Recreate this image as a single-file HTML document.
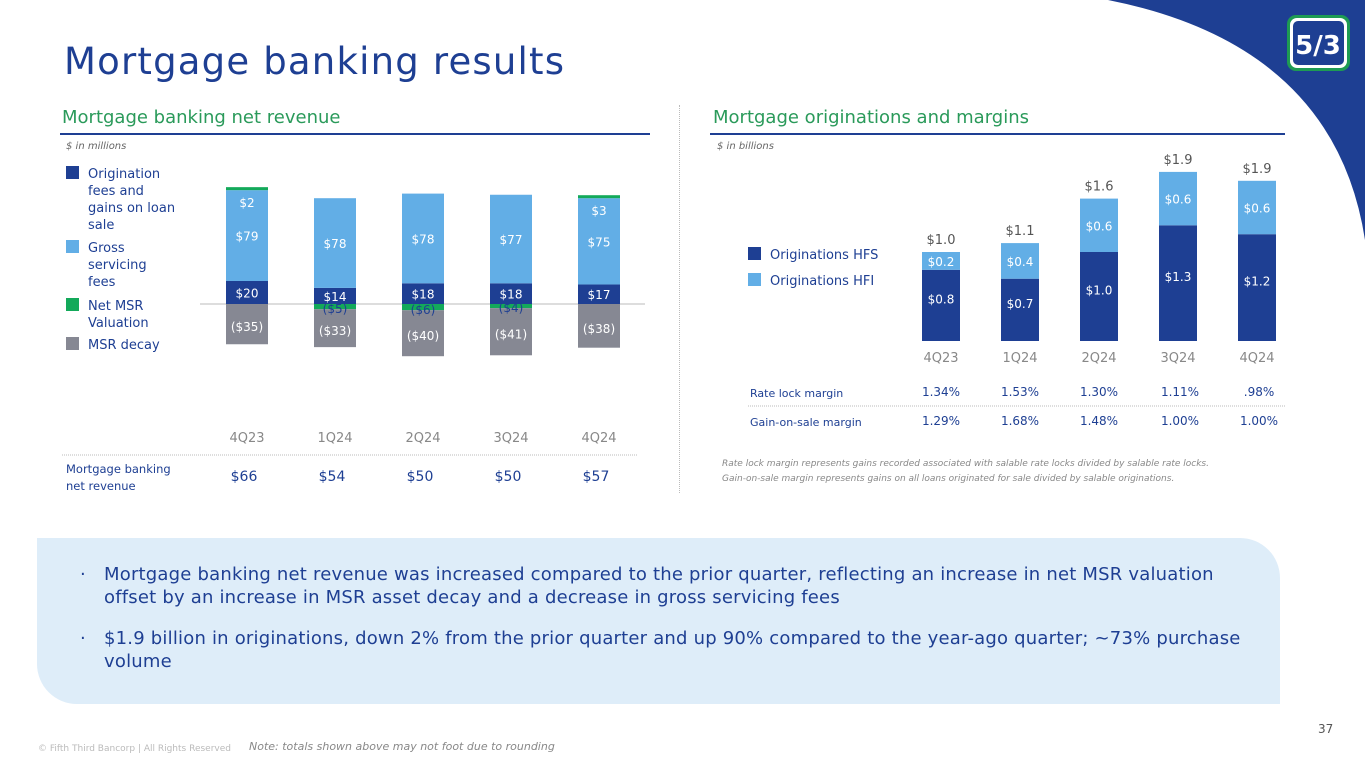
<!DOCTYPE html>
<html><head><meta charset="utf-8">
<style>
body{margin:0;width:1365px;height:768px;position:relative;overflow:hidden;background:#fff;font-family:"DejaVu Sans","Liberation Sans",sans-serif;color:#1e3f93}
.abs{position:absolute}
svg text{font-family:"DejaVu Sans","Liberation Sans",sans-serif}
</style></head><body>
<svg class="abs" style="left:0;top:0" width="1365" height="768">
<path d="M1108,0 Q1335,45 1365,240 L1365,0 Z" fill="#1e3f93"/>
<g>
<rect x="1287" y="15" width="63" height="56" rx="9" fill="#1e9b53"/>
<rect x="1290" y="18" width="57" height="50" rx="7" fill="#fff"/>
<rect x="1293" y="21" width="51" height="44" rx="5" fill="#1e3f93"/>
<text x="1318" y="54" text-anchor="middle" font-size="26" font-weight="bold" fill="#fff">5/3</text>
</g>
</svg>
<div class="abs" style="left:64px;top:40px;font-size:37px;letter-spacing:1.2px;color:#1e3f93">Mortgage banking results</div>
<div class="abs" style="left:62px;top:107px;font-size:18px;color:#2a9a5a">Mortgage banking net revenue</div>
<div class="abs" style="left:60px;top:133px;width:590px;height:2px;background:#1e3f93"></div>
<div class="abs" style="left:713px;top:107px;font-size:18px;color:#2a9a5a">Mortgage originations and margins</div>
<div class="abs" style="left:710px;top:133px;width:575px;height:2px;background:#1e3f93"></div>
<div class="abs" style="left:679px;top:105px;width:1px;height:388px;border-left:1px dotted #bbb"></div>

<svg id="left" class="abs" style="left:0;top:0" width="680" height="500"></svg>
<svg id="right" class="abs" style="left:680px;top:0" width="685" height="500"></svg>

<div class="abs" style="left:37px;top:538px;width:1243px;height:166px;background:#deedf9;border-radius:0 40px 0 40px"></div>
<div class="abs" style="left:80px;top:563px;width:1150px;font-size:18px;line-height:23px;color:#1e3f93;padding-left:24px;text-indent:-24px;letter-spacing:0.2px"><span style="display:inline-block;width:24px;text-indent:0">·</span>Mortgage banking net revenue was increased compared to the prior quarter, reflecting an increase in net MSR valuation offset by an increase in MSR asset decay and a decrease in gross servicing fees</div>
<div class="abs" style="left:80px;top:627px;width:1150px;font-size:18px;line-height:23px;color:#1e3f93;padding-left:24px;text-indent:-24px;letter-spacing:0.2px"><span style="display:inline-block;width:24px;text-indent:0">·</span>$1.9 billion in originations, down 2% from the prior quarter and up 90% compared to the year-ago quarter; ~73% purchase volume</div>
<div class="abs" style="left:38px;top:744px;font-size:9px;color:#bbb">© Fifth Third Bancorp | All Rights Reserved</div>
<div class="abs" style="left:249px;top:740px;font-size:11px;font-style:italic;color:#888">Note: totals shown above may not foot due to rounding</div>
<div class="abs" style="left:1318px;top:722px;font-size:12px;color:#555">37</div>

<script>
const quartersL=['4Q23','1Q24','2Q24','3Q24','4Q24'];
const origFees=[20,14,18,18,17];
const grossServ=[79,78,78,77,75];
const netMsr=[2,-5,-6,-4,3];
const msrDecay=[-35,-33,-40,-41,-38];
const netRevenue=['$66','$54','$50','$50','$57'];

const quartersR=['4Q23','1Q24','2Q24','3Q24','4Q24'];
const hfs=[0.8,0.7,1.0,1.3,1.2];
const hfi=[0.2,0.4,0.6,0.6,0.6];
const totals=['$1.0','$1.1','$1.6','$1.9','$1.9'];
const rateLock=['1.34%','1.53%','1.30%','1.11%','.98%'];
const gainOnSale=['1.29%','1.68%','1.48%','1.00%','1.00%'];

const NS='http://www.w3.org/2000/svg';
function mk(p,tag,a,txt){const e=document.createElementNS(NS,tag);for(const k in a)e.setAttribute(k,a[k]);if(txt!==undefined)e.textContent=txt;p.appendChild(e);return e;}
const fmt=v=>v<0?'($'+(-v)+')':'$'+v;

// LEFT
const L=document.getElementById('left');
const lx=i=>247+i*88, ly=v=>304-v*1.15, BW=42;
let t;
t=mk(L,'text',{x:66,y:149,'font-size':10,'font-style':'italic',fill:'#666'},'$ in millions');


const legL=[['#1e3f93',['Origination','fees and','gains on loan','sale'],173],['#62aee6',['Gross','servicing','fees'],247],['#13a95a',['Net MSR','Valuation'],305],['#868893',['MSR decay'],344]];
legL.forEach(([c,lines,y])=>{const g=mk(L,'g',{});


mk(g,'rect',{x:66,y:y-7,width:13,height:13,fill:c});
lines.forEach((s,k)=>mk(g,'text',{x:88,y:y+5+k*17,'font-size':13,fill:'#1e3f93'},s));});
mk(L,'line',{x1:200,x2:645,y1:304,y2:304,stroke:'#bbb'});
quartersL.forEach((q,i)=>{
 const x=lx(i)-BW/2;
 const g=mk(L,'g',{});
 
 
 let pos=0,neg=0;
 const seg=(v,c)=>{let y0,y1;if(v>=0){y0=ly(pos+v);y1=ly(pos);pos+=v;}else{y0=ly(neg);y1=ly(neg+v);neg+=v;}
  mk(g,'rect',{x:x,y:y0,width:BW,height:y1-y0,fill:c});return [y0,y1];};
 let d=seg(origFees[i],'#1e3f93');mk(g,'text',{x:lx(i),y:(d[0]+d[1])/2+5,'text-anchor':'middle','font-size':12,fill:'#fff'},fmt(origFees[i]));
 let s=seg(grossServ[i],'#62aee6');mk(g,'text',{x:lx(i),y:(s[0]+s[1])/2+5,'text-anchor':'middle','font-size':12,fill:'#fff'},fmt(grossServ[i]));
 let n;
 if(netMsr[i]>=0){n=[ly(pos)-3,ly(pos)];mk(g,'rect',{x:x,y:n[0],width:BW,height:3,fill:'#13a95a'});
  mk(g,'text',{x:lx(i),y:n[1]+17,'text-anchor':'middle','font-size':12,fill:'#fff'},fmt(netMsr[i]));}
 else{n=seg(netMsr[i]*0.9,'#13a95a');}
 let m=seg(msrDecay[i],'#868893');
 if(netMsr[i]<0)mk(g,'text',{x:lx(i),y:n[1]+4,'text-anchor':'middle','font-size':12,fill:'#1e3f93'},fmt(netMsr[i]));
 mk(g,'text',{x:lx(i),y:(m[0]+m[1])/2+7,'text-anchor':'middle','font-size':12,fill:'#fff'},fmt(msrDecay[i]));
 t=mk(L,'text',{x:lx(i),y:442,'text-anchor':'middle','font-size':13,fill:'#888'},q);
 
 
 t=mk(L,'text',{x:lx(i)-3,y:481,'text-anchor':'middle','font-size':14,fill:'#1e3f93'},netRevenue[i]);
 
 
});
mk(L,'line',{x1:62,x2:638,y1:455,y2:455,stroke:'#bbb','stroke-dasharray':'1 1'});
mk(L,'text',{x:66,y:473,'font-size':11.5,fill:'#1e3f93'},'Mortgage banking');
mk(L,'text',{x:66,y:490,'font-size':11.5,fill:'#1e3f93'},'net revenue');

// RIGHT (offset 680)
const R=document.getElementById('right');
const rx=i=>261+i*79, ry=v=>341-v*89, RW=38;
t=mk(R,'text',{x:37,y:149,'font-size':10,'font-style':'italic',fill:'#666'},'$ in billions');


[['#1e3f93','Originations HFS',254],['#62aee6','Originations HFI',280]].forEach(([c,s,y])=>{const g=mk(R,'g',{});


mk(g,'rect',{x:68,y:y-7,width:13,height:13,fill:c});mk(g,'text',{x:90,y:y+5,'font-size':13,fill:'#1e3f93'},s);});
quartersR.forEach((q,i)=>{
 const x=rx(i)-RW/2;
 const g=mk(R,'g',{});
 
 
 const a=ry(hfs[i]),b=ry(hfs[i]+hfi[i]);
 mk(g,'rect',{x:x,y:a,width:RW,height:341-a,fill:'#1e3f93'});
 mk(g,'rect',{x:x,y:b,width:RW,height:a-b,fill:'#62aee6'});
 mk(g,'text',{x:rx(i),y:(a+341)/2-2,'text-anchor':'middle','font-size':12,fill:'#fff'},'$'+hfs[i].toFixed(1));
 mk(g,'text',{x:rx(i),y:(a+b)/2+5,'text-anchor':'middle','font-size':12,fill:'#fff'},'$'+hfi[i].toFixed(1));
 mk(g,'text',{x:rx(i),y:b-8,'text-anchor':'middle','font-size':13,fill:'#555'},totals[i]);
 t=mk(R,'text',{x:rx(i),y:362,'text-anchor':'middle','font-size':13,fill:'#888'},q);
 
 
 t=mk(R,'text',{x:rx(i)+(i>2?2:0),y:396,'text-anchor':'middle','font-size':12,fill:'#1e3f93'},rateLock[i]);
 
 
 t=mk(R,'text',{x:rx(i)+(i>2?2:0),y:425,'text-anchor':'middle','font-size':12,fill:'#1e3f93'},gainOnSale[i]);
 
 
});
mk(R,'text',{x:70,y:397,'font-size':11,fill:'#1e3f93'},'Rate lock margin');
mk(R,'text',{x:70,y:426,'font-size':11,fill:'#1e3f93'},'Gain-on-sale margin');
mk(R,'line',{x1:68,x2:605,y1:406,y2:406,stroke:'#bbb','stroke-dasharray':'1 1'});
mk(R,'text',{x:42,y:466,'font-size':9,'font-style':'italic',fill:'#888'},'Rate lock margin represents gains recorded associated with salable rate locks divided by salable rate locks.');
mk(R,'text',{x:42,y:481,'font-size':9,'font-style':'italic',fill:'#888'},'Gain-on-sale margin represents gains on all loans originated for sale divided by salable originations.');
</script>
</body></html>
